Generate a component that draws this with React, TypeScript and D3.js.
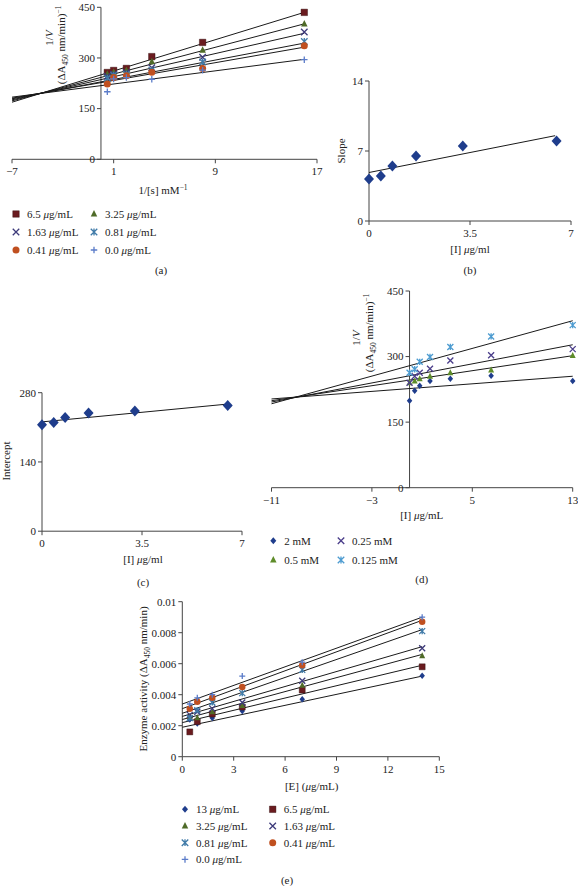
import React from 'react';
import * as d3 from 'd3';

const FONT = "'Liberation Serif', 'Times New Roman', Times, serif";

// ---------- Panel (a): Lineweaver-Burk ----------
const aXTicks = [-7, 1, 9, 17];
const aYTicks = [0, 150, 300, 450];
const aX = [0.5, 1, 2, 4, 8, 16];
const aLabels = ['6.5', '3.25', '1.63', '0.81', '0.41', '0.0'];
const aY65 = [257, 263, 269, 304, 346, 435];
const aY325 = [252, 258, 263, 289, 323, 401];
const aY163 = [246, 252, 257, 271, 302, 377];
const aY081 = [240, 249, 252, 264, 288, 349];
const aY041 = [223, 242, 247, 258, 269, 336];
const aY00 = [200, 238, 242, 237, 264, 295];
const aLineX = [-7, 16];
const aLine65 = [169, 435];
const aLine325 = [173, 401];
const aLine163 = [176, 373];
const aLine081 = [179, 344];
const aLine041 = [181, 332];
const aLine00 = [184, 296];

// ---------- Panel (b): slope replot ----------
const bXTicks = [0, 3.5, 7];
const bYTicks = [0, 7, 14];
const iConc = [0, 0.41, 0.81, 1.63, 3.25, 6.5];
const bSlope = [4.2, 4.5, 5.5, 6.5, 7.5, 8.0];
const bLineX = [0, 6.45];
const bLineY = [4.85, 8.53];

// ---------- Panel (c): intercept replot ----------
const cXTicks = [0, 3.5, 7];
const cYTicks = [0, 140, 280];
const cIntercept = [215, 220, 230, 239, 243, 254];
const cLineX = [0, 6.5];
const cLineY = [221, 257];

// ---------- Panel (d): Dixon plot ----------
const dXTicks = [-11, -3, 5, 13];
const dYTicks = [0, 150, 300, 450];
const dX = [0, 0.41, 0.81, 1.63, 3.25, 6.5, 13];
const dLabels = ['2 mM', '0.5 mM', '0.25 mM', '0.125 mM'];
const dY2 = [199, 222, 233, 244, 249, 256, 244];
const dY05 = [240, 244, 249, 255, 263, 269, 302];
const dY025 = [240, 255, 263, 272, 291, 303, 317];
const dY0125 = [263, 271, 288, 299, 322, 346, 372];
const dLineX = [-11, 13];
const dLine2 = [203, 255];
const dLine05 = [199, 302];
const dLine025 = [196, 327];
const dLine0125 = [192, 382];

// ---------- Panel (e): activity vs enzyme ----------
const eXTicks = [0, 3, 6, 9, 12, 15];
const eYTicks = [0, 0.002, 0.004, 0.006, 0.008, 0.01];
const eX = [0.4375, 0.875, 1.75, 3.5, 7, 14];
const eLabels = ['13', '6.5', '3.25', '1.63', '0.81', '0.41', '0.0'];
const eY13 = [0.0024, 0.00215, 0.0025, 0.00295, 0.0037, 0.00523];
const eY65 = [0.0016, 0.00226, 0.00275, 0.0032, 0.0043, 0.0058];
const eY325 = [0.0026, 0.0025, 0.0029, 0.0033, 0.0046, 0.0065];
const eY163 = [0.0027, 0.0029, 0.0031, 0.0035, 0.0049, 0.007];
const eY081 = [0.0025, 0.003, 0.0035, 0.0041, 0.0056, 0.0081];
const eY041 = [0.0031, 0.00355, 0.0038, 0.0045, 0.0059, 0.0087];
const eY00 = [0.0034, 0.0038, 0.004, 0.0052, 0.0061, 0.009];
const eLineX = [0, 14];
const eLine13 = [0.0019, 0.0052];
const eLine65 = [0.0022, 0.0059];
const eLine325 = [0.0024, 0.0066];
const eLine163 = [0.0026, 0.0071];
const eLine081 = [0.0028, 0.0082];
const eLine041 = [0.0031, 0.0088];
const eLine00 = [0.0034, 0.009];

const C = {
  square: '#6a1b1f',
  tri: '#4f6b28',
  x: '#3d3a7a',
  ast: '#3f7aa8',
  circle: '#c05020',
  plus: '#5b7cc9',
  diamond: '#1f3d8c',
  dTri: '#5e8c2a',
  dX: '#4a3d8a',
  dAst: '#4c9bd0',
};

type MType = 'square' | 'triangle' | 'x' | 'asterisk' | 'circle' | 'plus' | 'diamond';

function Marker({ type, x, y, s, color, h }: { type: MType; x: number; y: number; s: number; color: string; h?: number }) {
  const r = s / 2;
  if (type === 'square') {
    const p = d3.symbol().type(d3.symbolSquare).size(s * s)();
    return <path d={p || ''} transform={`translate(${x},${y})`} fill={color} stroke="#2a0a0a" strokeWidth={0.4} />;
  }
  if (type === 'circle') {
    return <circle cx={x} cy={y} r={r} fill={color} />;
  }
  if (type === 'triangle') {
    const pts = [[x, y - s * 0.6], [x - r, y + s * 0.4], [x + r, y + s * 0.4]];
    return <polygon points={pts.map((q) => q.join(',')).join(' ')} fill={color} />;
  }
  if (type === 'diamond') {
    const hh = (h ?? s) / 2;
    const pts = [[x, y - hh], [x + r, y], [x, y + hh], [x - r, y]];
    return <polygon points={pts.map((q) => q.join(',')).join(' ')} fill={color} />;
  }
  const p = d3.path();
  if (type === 'x' || type === 'asterisk') {
    p.moveTo(x - r, y - r); p.lineTo(x + r, y + r);
    p.moveTo(x - r, y + r); p.lineTo(x + r, y - r);
  }
  if (type === 'asterisk') {
    p.moveTo(x, y - r * 1.05); p.lineTo(x, y + r * 1.05);
  }
  if (type === 'plus') {
    p.moveTo(x - r, y); p.lineTo(x + r, y);
    p.moveTo(x, y - r); p.lineTo(x, y + r);
  }
  return <path d={p.toString()} stroke={color} strokeWidth={1.3} fill="none" />;
}

type Scale = d3.ScaleLinear<number, number>;

function Axes({ xs, ys, xTicks, yTicks, yFmt, xFmt, axisX = 0, axisY = 0 }: {
  xs: Scale; ys: Scale; xTicks: number[]; yTicks: number[]; yFmt?: (v: number) => string; xFmt?: (v: number) => string; axisX?: number; axisY?: number;
}) {
  const fmtN = (v: number) => (v < 0 ? '\u2212' + Math.abs(v) : String(v));
  const yf = yFmt || fmtN;
  const xf = xFmt || fmtN;
  const xd = xs.domain();
  const yd = ys.domain();
  const X0 = xs(axisX);
  const Y0 = ys(axisY);
  return (
    <g fontFamily={FONT} fontSize={11} fill="#222">
      <line x1={xs(xd[0])} x2={xs(xd[1])} y1={Y0} y2={Y0} stroke="#444" strokeWidth={1} />
      <line x1={X0} x2={X0} y1={ys(yd[0])} y2={ys(yd[1])} stroke="#444" strokeWidth={1} />
      {xTicks.map((t) => (
        <g key={'x' + t}>
          <line x1={xs(t)} x2={xs(t)} y1={Y0} y2={Y0 + 4} stroke="#444" strokeWidth={1} />
          <text x={xs(t)} y={Y0 + 12} dy="0.35em" textAnchor="middle">{xf(t)}</text>
        </g>
      ))}
      {yTicks.map((t) => (
        <g key={'y' + t}>
          <line x1={X0 - 4} x2={X0} y1={ys(t)} y2={ys(t)} stroke="#444" strokeWidth={1} />
          <text x={X0 - 6} y={ys(t)} dy="0.35em" textAnchor="end">{yf(t)}</text>
        </g>
      ))}
    </g>
  );
}

function FitLine({ xs, ys, lx, ly }: { xs: Scale; ys: Scale; lx: number[]; ly: number[] }) {
  const line = d3.line<number>().x((_, i) => xs(lx[i])).y((v) => ys(v));
  return <path d={line(ly) || ''} stroke="#1a1a1a" strokeWidth={1} fill="none" />;
}

function Series({ xs, ys, px, py, type, color, s, h }: { xs: Scale; ys: Scale; px: number[]; py: number[]; type: MType; color: string; s: number; h?: number }) {
  return (
    <g>
      {py.map((v, i) => (
        <Marker key={i} type={type} x={xs(px[i])} y={ys(v)} s={s} h={h} color={color} />
      ))}
    </g>
  );
}

function Txt({ x, y, children, anchor = 'middle', size = 11 }: { x: number; y: number; children: React.ReactNode; anchor?: string; size?: number }) {
  return (
    <text x={x} y={y} dy="0.35em" textAnchor={anchor as any} fontFamily={FONT} fontSize={size} fill="#222">{children}</text>
  );
}

function RotLabel({ x, y, children }: { x: number; y: number; children: React.ReactNode }) {
  return (
    <text transform={`translate(${x},${y}) rotate(-90)`} textAnchor="middle" fontFamily={FONT} fontSize={11} fill="#222">{children}</text>
  );
}

const Mu = () => <tspan fontStyle="italic">μ</tspan>;

function DeltaLabel() {
  return (
    <>
      (ΔA<tspan dy="2.5" fontSize={7.5}>450</tspan><tspan dy="-2.5"> nm/min)</tspan><tspan dy="-4" fontSize={7.5}>−1</tspan>
    </>
  );
}

function DeltaLabelNoExp() {
  return (
    <>
      (ΔA<tspan dy="2.5" fontSize={7.5}>450</tspan><tspan dy="-2.5"> nm/min)</tspan>
    </>
  );
}

function LegendItem({ x, y, type, color, s, h, children }: { x: number; y: number; type: MType; color: string; s: number; h?: number; children: React.ReactNode }) {
  return (
    <g>
      <Marker type={type} x={x} y={y} s={s} h={h} color={color} />
      <Txt x={x + 11} y={y} anchor="start">{children}</Txt>
    </g>
  );
}

export default function App() {
  const axs = d3.scaleLinear().domain([-7, 17]).range([12, 317]);
  const ays = d3.scaleLinear().domain([0, 450]).range([159.3, 7.3]);
  const bxs = d3.scaleLinear().domain([0, 7]).range([369, 571]);
  const bys = d3.scaleLinear().domain([0, 14]).range([221, 81]);
  const cxs = d3.scaleLinear().domain([0, 7]).range([42, 242]);
  const cys = d3.scaleLinear().domain([0, 280]).range([531.2, 392.7]);
  const dxs = d3.scaleLinear().domain([-11, 13]).range([271.5, 572.7]);
  const dys = d3.scaleLinear().domain([0, 450]).range([487.7, 291]);
  const exs = d3.scaleLinear().domain([0, 15]).range([182.3, 439.3]);
  const eys = d3.scaleLinear().domain([0, 0.01]).range([756.7, 601.7]);

  const aSeries: [number[], number[], MType, string][] = [
    [aY65, aLine65, 'square', C.square],
    [aY325, aLine325, 'triangle', C.tri],
    [aY163, aLine163, 'x', C.x],
    [aY081, aLine081, 'asterisk', C.ast],
    [aY041, aLine041, 'circle', C.circle],
    [aY00, aLine00, 'plus', C.plus],
  ];
  const dSeries: [number[], number[], MType, string][] = [
    [dY2, dLine2, 'diamond', C.diamond],
    [dY05, dLine05, 'triangle', C.dTri],
    [dY025, dLine025, 'x', C.dX],
    [dY0125, dLine0125, 'asterisk', C.dAst],
  ];
  const eSeries: [number[], number[], MType, string][] = [
    [eY13, eLine13, 'diamond', C.diamond],
    [eY65, eLine65, 'square', C.square],
    [eY325, eLine325, 'triangle', C.tri],
    [eY163, eLine163, 'x', C.x],
    [eY081, eLine081, 'asterisk', C.ast],
    [eY041, eLine041, 'circle', C.circle],
    [eY00, eLine00, 'plus', C.plus],
  ];

  const eFmt = (v: number) => (v === 0 ? '0' : String(+v.toFixed(3)));

  return (
    <svg width={578} height={886} style={{ position: 'absolute', left: 0, top: 0, background: '#fff' }}>
      <rect width={578} height={886} fill="#fff" />

      {/* ---- (a) ---- */}
      <Axes xs={axs} ys={ays} xTicks={aXTicks} yTicks={aYTicks} />
      {aSeries.map(([, l], i) => <FitLine key={'al' + i} xs={axs} ys={ays} lx={aLineX} ly={l} />)}
      {aSeries.map(([pts, , t, c], i) => (
        <Series key={'as' + i} xs={axs} ys={ays} px={aX} py={pts} type={t} color={c} s={t === 'circle' ? 7 : 6.5} />
      ))}
      <RotLabel x={53} y={38}>1/<tspan fontStyle="italic">V</tspan></RotLabel>
      <RotLabel x={65} y={45}><DeltaLabel /></RotLabel>
      <Txt x={163} y={190}>1/[s] mM<tspan dy="-4" fontSize={7.5}>−1</tspan></Txt>
      {aLabels.map((lab, i) => {
        const col = i % 2;
        const row = Math.floor(i / 2);
        const [, , t, c] = aSeries[i];
        return (
          <LegendItem key={'alg' + i} x={col === 0 ? 16 : 94} y={214 + row * 18} type={t} color={c} s={t === 'circle' ? 7 : 6.5}>
            {lab} <Mu />g/mL
          </LegendItem>
        );
      })}
      <Txt x={161} y={270}>(a)</Txt>

      {/* ---- (b) ---- */}
      <Axes xs={bxs} ys={bys} xTicks={bXTicks} yTicks={bYTicks} />
      <FitLine xs={bxs} ys={bys} lx={bLineX} ly={bLineY} />
      <Series xs={bxs} ys={bys} px={iConc} py={bSlope} type="diamond" color={C.diamond} s={10} h={11} />
      <RotLabel x={345} y={151}>Slope</RotLabel>
      <Txt x={470} y={249}>[I] <Mu />g/ml</Txt>
      <Txt x={470} y={270}>(b)</Txt>

      {/* ---- (c) ---- */}
      <Axes xs={cxs} ys={cys} xTicks={cXTicks} yTicks={cYTicks} />
      <FitLine xs={cxs} ys={cys} lx={cLineX} ly={cLineY} />
      <Series xs={cxs} ys={cys} px={iConc} py={cIntercept} type="diamond" color={C.diamond} s={10} h={11} />
      <RotLabel x={10} y={461}>Intercept</RotLabel>
      <Txt x={143} y={559}>[I] <Mu />g/ml</Txt>
      <Txt x={143} y={582}>(c)</Txt>

      {/* ---- (d) ---- */}
      <Axes xs={dxs} ys={dys} xTicks={dXTicks} yTicks={dYTicks} />
      {dSeries.map(([, l], i) => <FitLine key={'dl' + i} xs={dxs} ys={dys} lx={dLineX} ly={l} />)}
      {dSeries.map(([pts, , t, c], i) => (
        <Series key={'ds' + i} xs={dxs} ys={dys} px={dX} py={pts} type={t} color={c} s={t === 'diamond' ? 5.5 : 6} h={6.5} />
      ))}
      <RotLabel x={360} y={338}>1/<tspan fontStyle="italic">V</tspan></RotLabel>
      <RotLabel x={373} y={333}><DeltaLabel /></RotLabel>
      <Txt x={421.7} y={515}>[I] <Mu />g/mL</Txt>
      {dLabels.map((lab, i) => {
        const order = [0, 2, 1, 3];
        const k = order[i];
        const col = k % 2;
        const row = Math.floor(k / 2);
        const [, , t, c] = dSeries[i];
        return (
          <LegendItem key={'dlg' + i} x={col === 0 ? 273.3 : 341} y={540.7 + row * 19.3} type={t} color={c} s={t === 'diamond' ? 6 : 6.5} h={7}>
            {lab}
          </LegendItem>
        );
      })}
      <Txt x={421.7} y={579}>(d)</Txt>

      {/* ---- (e) ---- */}
      <Axes xs={exs} ys={eys} xTicks={eXTicks} yTicks={eYTicks} yFmt={eFmt} />
      {eSeries.map(([, l], i) => <FitLine key={'el' + i} xs={exs} ys={eys} lx={eLineX} ly={l} />)}
      {eSeries.map(([pts, , t, c], i) => (
        <Series key={'es' + i} xs={exs} ys={eys} px={eX} py={pts} type={t} color={c} s={t === 'circle' ? 6.5 : t === 'diamond' ? 5.5 : 6} h={6.5} />
      ))}
      <RotLabel x={147} y={679}>Enzyme activity <DeltaLabelNoExp /></RotLabel>
      <Txt x={311.7} y={786}>[E] (<Mu />g/mL)</Txt>
      {eLabels.map((lab, i) => {
        const col = i % 2;
        const row = Math.floor(i / 2);
        const [, , t, c] = eSeries[i];
        return (
          <LegendItem key={'elg' + i} x={col === 0 ? 185 : 272.7} y={809.3 + row * 16.7} type={t} color={c} s={t === 'circle' ? 7 : t === 'diamond' ? 6 : 6.5} h={7}>
            {lab} <Mu />g/mL
          </LegendItem>
        );
      })}
      <Txt x={287} y={880}>(e)</Txt>
    </svg>
  );
}
